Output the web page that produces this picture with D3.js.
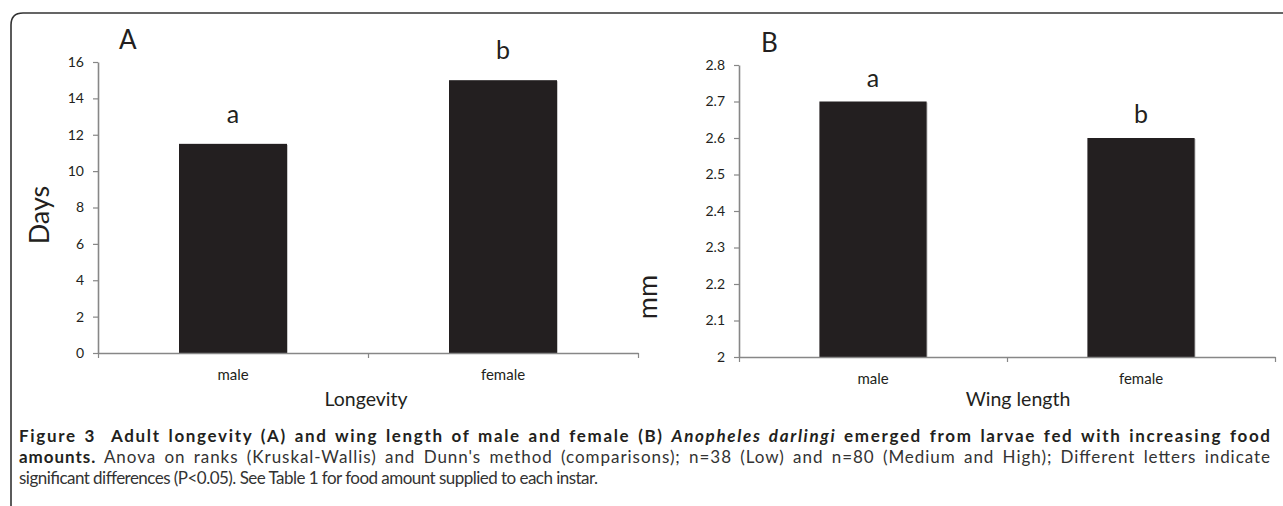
<!DOCTYPE html>
<html>
<head>
<meta charset="utf-8">
<script src="https://cdn.jsdelivr.net/npm/d3@7"></script>
<style>
  body { margin: 0; background: #fff; }
  svg { display: block; }
</style>
</head>
<body>
<div id="vis"></div>
<script>
// data
const categories = ["male", "female"];
const longevityDays = [11.5, 15];
const wingLengthMm = [2.7, 2.6];
const lettersA = ["a", "b"];
const lettersB = ["a", "b"];
const ticksA = [0, 2, 4, 6, 8, 10, 12, 14, 16];
const ticksB = [2, 2.1, 2.2, 2.3, 2.4, 2.5, 2.6, 2.7, 2.8];

const WIDTH = 1283;
const HEIGHT = 506;
const axisColor = "#878787";
const barColor = "#231f20";
const tickFont = "Lato, 'Open Sans', sans-serif";

const svg = d3.select("#vis")
  .append("svg")
  .attr("width", WIDTH)
  .attr("height", HEIGHT);

// frame round the figure (open to the right and bottom)
svg.append("path")
  .attr("d", "M11,506 L11,25 Q11,13 23,13 L1283,13")
  .attr("fill", "none")
  .attr("stroke", "#333")
  .attr("stroke-width", 1.6);

function drawPanel(opts) {
  const g = svg.append("g");
  const y = d3.scaleLinear().domain(opts.domain).range([opts.bottom, opts.top]);
  const x = d3.scaleBand().domain(categories)
    .range([opts.left, opts.right])
    .paddingInner(0.6).paddingOuter(0.3);
  const xBound = d3.scaleLinear().domain([0, categories.length]).range([opts.left, opts.right]);

  // bars with a soft shadow
  g.selectAll(".shadow")
    .data(opts.values)
    .join("rect")
    .attr("x", (d, i) => x(categories[i]) + 1)
    .attr("y", d => y(d) + 1)
    .attr("width", x.bandwidth())
    .attr("height", d => opts.bottom - y(d))
    .attr("fill", "#c8c8c8");
  g.selectAll(".bar")
    .data(opts.values)
    .join("rect")
    .attr("x", (d, i) => x(categories[i]))
    .attr("y", d => y(d))
    .attr("width", x.bandwidth())
    .attr("height", d => opts.bottom - y(d))
    .attr("fill", barColor);

  // y axis
  const yAxis = g.append("g")
    .attr("transform", `translate(${opts.left},0)`)
    .call(d3.axisLeft(y).tickValues(opts.ticks).tickSize(5).tickSizeOuter(0)
      .tickPadding(9).tickFormat(opts.fmt));
  yAxis.select(".domain").attr("stroke", axisColor).attr("stroke-width", 1.6);
  yAxis.selectAll(".tick line").attr("stroke", axisColor).attr("stroke-width", 1.2);
  yAxis.selectAll(".tick text")
    .attr("font-family", tickFont).attr("font-size", 14).attr("fill", "#231f20");

  // x axis line with ticks at category boundaries
  const xAxis = g.append("g")
    .attr("transform", `translate(0,${opts.bottom})`)
    .call(d3.axisBottom(xBound).tickValues(d3.range(categories.length + 1))
      .tickSize(5).tickSizeOuter(0).tickFormat(""));
  xAxis.select(".domain").attr("stroke", axisColor).attr("stroke-width", 1.6);
  xAxis.selectAll(".tick line").attr("stroke", axisColor).attr("stroke-width", 1.2);

  // category labels
  const xLab = g.append("g")
    .attr("transform", `translate(0,${opts.bottom})`)
    .call(d3.axisBottom(x).tickSize(0).tickPadding(16));
  xLab.select(".domain").remove();
  xLab.selectAll(".tick text")
    .attr("font-family", tickFont).attr("font-size", 15).attr("fill", "#231f20");

  // significance letters
  g.selectAll(".letter")
    .data(opts.values)
    .join("text")
    .attr("x", (d, i) => x(categories[i]) + x.bandwidth() / 2)
    .attr("y", d => y(d) - opts.letterGap)
    .attr("text-anchor", "middle")
    .attr("font-family", tickFont)
    .attr("font-size", 25)
    .attr("fill", "#231f20")
    .text((d, i) => opts.letters[i]);

  // panel letter
  g.append("text")
    .attr("x", opts.panelX).attr("y", opts.panelY)
    .attr("font-family", tickFont).attr("font-size", 26).attr("fill", "#231f20")
    .text(opts.panel);

  // x title
  g.append("text")
    .attr("x", opts.xTitleX).attr("y", 406)
    .attr("text-anchor", "middle")
    .attr("font-family", tickFont).attr("font-size", 19.5).attr("fill", "#231f20")
    .text(opts.xTitle);

  // y title
  g.append("text")
    .attr("transform", `translate(${opts.yTitleX},${opts.yTitleY}) rotate(-90)`)
    .attr("text-anchor", "middle")
    .attr("font-family", tickFont).attr("font-size", 27).attr("fill", "#231f20")
    .text(opts.yTitle);
}

drawPanel({
  values: longevityDays, letters: lettersA, ticks: ticksA,
  domain: [0, 16], fmt: d3.format("d"),
  left: 98, right: 638, top: 62, bottom: 353,
  letterGap: 21, panel: "A", panelX: 119, panelY: 49,
  xTitle: "Longevity", xTitleX: 366,
  yTitle: "Days", yTitleX: 49, yTitleY: 215
});

drawPanel({
  values: wingLengthMm, letters: lettersB, ticks: ticksB,
  domain: [2, 2.8], fmt: d => String(+d.toFixed(1)),
  left: 739, right: 1275, top: 65, bottom: 357,
  letterGap: 15, panel: "B", panelX: 761, panelY: 52,
  xTitle: "Wing length", xTitleX: 1018,
  yTitle: "mm", yTitleX: 657, yTitleY: 297
});

// caption: lines 1 and 2 are justified to the full width
const capFont = "Lato, 'Noto Sans', sans-serif";
const cap = svg.append("g").attr("font-family", capFont).attr("font-size", 17);

const l1 = cap.append("text")
  .attr("x", 19).attr("y", 442)
  .attr("word-spacing", 2)
  .attr("textLength", 1251).attr("lengthAdjust", "spacing")
  .attr("font-weight", "bold").attr("fill", "#231f20");
l1.append("tspan").text("Figure 3\u00a0 Adult longevity (A) and wing length of male and female (B) ");
l1.append("tspan").attr("font-style", "italic").text("Anopheles darlingi");
l1.append("tspan").text(" emerged from larvae fed with increasing food");

const l2 = cap.append("text")
  .attr("x", 19).attr("y", 463)
  .attr("word-spacing", 3)
  .attr("textLength", 1251).attr("lengthAdjust", "spacing")
  .attr("fill", "#333");
l2.append("tspan").attr("font-weight", "bold").attr("fill", "#231f20").text("amounts.");
l2.append("tspan").text(" Anova on ranks (Kruskal-Wallis) and Dunn's method (comparisons); n=38 (Low) and n=80 (Medium and High); Different letters indicate");

cap.append("text")
  .attr("x", 19).attr("y", 484)
  .attr("textLength", 579).attr("lengthAdjust", "spacing")
  .attr("fill", "#333")
  .text("significant differences (P<0.05). See Table 1 for food amount supplied to each instar.");
</script>
</body>
</html>
